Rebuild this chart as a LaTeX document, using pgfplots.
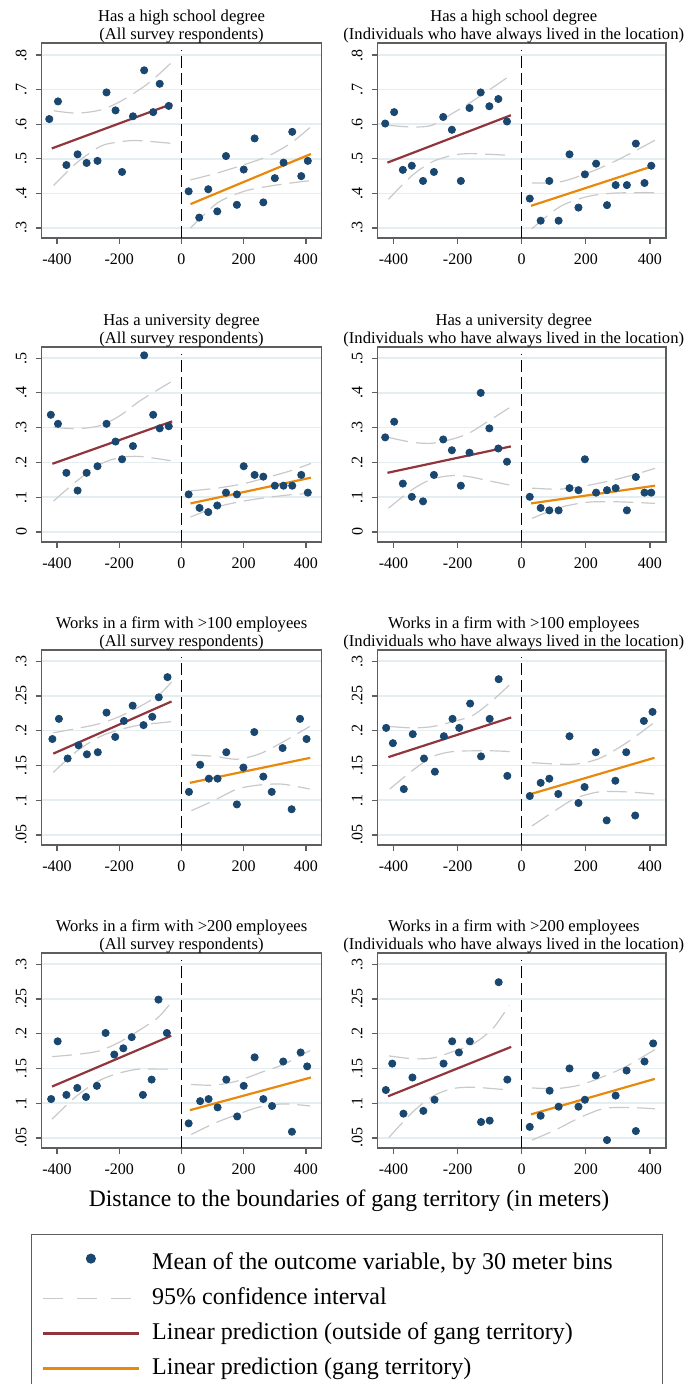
\documentclass[border=0pt]{standalone}
\usepackage{fontspec}
\setmainfont{Liberation Serif}
\usepackage{pgfplots}
\pgfplotsset{compat=1.18}
\definecolor{navyc}{HTML}{1A476F}
\definecolor{maroonc}{HTML}{90353B}
\definecolor{orangec}{HTML}{E8890C}
\definecolor{gridc}{HTML}{E4EEF1}
\definecolor{cic}{HTML}{C9C9C9}
\definecolor{framec}{HTML}{5E5E5E}
\pgfplotsset{
  every axis title shift=0pt,
  panel/.style={
    scale only axis, height=97.5pt, anchor=north west,
    xmin=-450, xmax=450,
    xtick={-400,-200,0,200,400}, xticklabels={-400,-200,0,200,400},
    axis line style={draw=framec, line width=0.6pt},
    tick style={draw=framec, line width=0.6pt},
    tick align=outside, major tick length=3pt,
    xtick pos=lower, ytick pos=left,
    ymajorgrids, grid style={draw=gridc, line width=0.8pt},
    tick label style={font=\fontsize{8}{9}\selectfont},
    yticklabel style={rotate=90, anchor=south, inner sep=4.2pt},
    xticklabel style={inner sep=4.5pt},
    title style={font=\fontsize{8.3}{9}\selectfont, align=center, at={(0.5,1)}, anchor=south, inner sep=0pt, yshift=0pt},
  },
  lcol/.style={panel, width=140pt},
  rcol/.style={panel, width=144.25pt, title style={xshift=-4pt}},
  row1/.style={ymin=0.271, ymax=0.835, ytick={0.3,0.4,0.5,0.6,0.7,0.8}, yticklabels={.3,.4,.5,.6,.7,.8}},
  row2/.style={ymin=-0.029, ymax=0.532, ytick={0,0.1,0.2,0.3,0.4,0.5}, yticklabels={0,.1,.2,.3,.4,.5}},
  row34/.style={ymin=0.0356, ymax=0.316, ytick={0.05,0.1,0.15,0.2,0.25,0.3}, yticklabels={.05,.1,.15,.2,.25,.3}},
  pts/.style={only marks, mark=*, mark size=1.8pt, mark options={draw=navyc, fill=navyc}},
  ci/.style={draw=cic, line width=0.6pt, dash pattern=on 10pt off 4pt, smooth},
  red/.style={draw=maroonc, line width=1.1pt},
  orng/.style={draw=orangec, line width=1.1pt},
  vline/.style={draw=black, line width=0.6pt, dash pattern=on 6pt off 2.5pt},
}
\begin{document}
\begin{tikzpicture}
%% ---------- Row 1 left
\begin{axis}[lcol, row1, at={(20.75pt,-21.5pt)}, title={Has a high school degree\\(All survey respondents)}]
\addplot[ci] coordinates {(-411,0.639) (-336,0.632) (-261,0.641) (-207,0.661) (-154,0.689) (-100,0.723) (-35,0.776)};
\addplot[ci] coordinates {(-411,0.423) (-336,0.489) (-261,0.536) (-207,0.548) (-154,0.553) (-100,0.550) (-35,0.545)};
\addplot[ci] coordinates {(29,0.439) (115,0.459) (201,0.483) (276,0.507) (351,0.545) (416,0.593)};
\addplot[ci] coordinates {(29,0.300) (115,0.372) (201,0.406) (276,0.420) (351,0.430) (416,0.437)};
\addplot[red] coordinates {(-417,0.530) (-30,0.659)};
\addplot[orng] coordinates {(29,0.369) (416,0.514)};
\addplot[vline] coordinates {(0,0.271) (0,0.815)};
\addplot[pts] coordinates {(-425,0.615) (-397,0.666) (-370,0.482) (-334,0.513) (-305,0.488) (-270,0.494) (-241,0.692) (-212,0.640) (-191,0.462) (-156,0.623) (-120,0.756) (-91,0.635) (-70,0.717) (-41,0.653)
 (23,0.406) (57,0.330) (86,0.412) (115,0.348) (143,0.508) (178,0.367) (200,0.469) (235,0.559) (263,0.374) (300,0.444) (328,0.489) (356,0.578) (385,0.450) (406,0.494)};
\end{axis}
%% ---------- Row 1 right
\begin{axis}[rcol, row1, at={(188.75pt,-21.5pt)}, title={Has a high school degree\\(Individuals who have always lived in the location)}]
\addplot[ci] coordinates {(-416,0.597) (-343,0.592) (-280,0.597) (-217,0.631) (-165,0.660) (-102,0.699) (-39,0.739)};
\addplot[ci] coordinates {(-416,0.383) (-343,0.451) (-280,0.491) (-217,0.510) (-165,0.515) (-102,0.513) (-39,0.510)};
\addplot[ci] coordinates {(32,0.430) (118,0.433) (201,0.457) (275,0.486) (348,0.520) (416,0.554)};
\addplot[ci] coordinates {(32,0.298) (118,0.361) (201,0.390) (275,0.400) (348,0.402) (416,0.402)};
\addplot[red] coordinates {(-419,0.489) (-34,0.626)};
\addplot[orng] coordinates {(29,0.364) (416,0.481)};
\addplot[vline] coordinates {(0,0.271) (0,0.815)};
\addplot[pts] coordinates {(-426,0.602) (-398,0.635) (-371,0.468) (-343,0.480) (-308,0.436) (-274,0.462) (-245,0.621) (-218,0.584) (-190,0.436) (-163,0.647) (-128,0.692) (-101,0.652) (-73,0.673) (-46,0.608)
 (25,0.385) (59,0.321) (86,0.436) (115,0.321) (149,0.513) (177,0.359) (197,0.455) (232,0.486) (266,0.366) (293,0.424) (328,0.424) (356,0.544) (383,0.430) (404,0.480)};
\end{axis}
%% ---------- Row 2 left
\begin{axis}[lcol, row2, at={(20.75pt,-173.5pt)}, title={Has a university degree\\(All survey respondents)}]
\addplot[ci] coordinates {(-411,0.301) (-336,0.297) (-261,0.306) (-197,0.335) (-132,0.378) (-35,0.431)};
\addplot[ci] coordinates {(-411,0.089) (-336,0.147) (-261,0.195) (-197,0.214) (-132,0.217) (-35,0.205)};
\addplot[ci] coordinates {(29,0.118) (115,0.126) (201,0.139) (276,0.157) (351,0.176) (416,0.197)};
\addplot[ci] coordinates {(29,0.043) (115,0.072) (201,0.089) (276,0.099) (351,0.107) (416,0.111)};
\addplot[red] coordinates {(-415,0.196) (-30,0.318)};
\addplot[orng] coordinates {(29,0.082) (416,0.156)};
\addplot[vline] coordinates {(0,-0.029) (0,0.512)};
\addplot[pts] coordinates {(-420,0.337) (-397,0.311) (-370,0.170) (-334,0.119) (-305,0.170) (-270,0.189) (-241,0.311) (-212,0.260) (-191,0.209) (-156,0.247) (-120,0.508) (-91,0.337) (-70,0.298) (-41,0.304)
 (23,0.108) (58,0.069) (86,0.057) (115,0.076) (143,0.113) (178,0.108) (200,0.189) (235,0.164) (263,0.159) (300,0.133) (328,0.133) (356,0.133) (385,0.164) (406,0.113)};
\end{axis}
%% ---------- Row 2 right
\begin{axis}[rcol, row2, at={(188.75pt,-173.5pt)}, title={Has a university degree\\(Individuals who have always lived in the location)}]
\addplot[ci] coordinates {(-416,0.272) (-343,0.258) (-280,0.255) (-217,0.267) (-165,0.284) (-102,0.320) (-39,0.357)};
\addplot[ci] coordinates {(-416,0.068) (-343,0.121) (-280,0.152) (-217,0.162) (-165,0.159) (-102,0.147) (-39,0.135)};
\addplot[ci] coordinates {(32,0.126) (118,0.123) (201,0.133) (275,0.147) (348,0.164) (416,0.183)};
\addplot[ci] coordinates {(32,0.039) (118,0.070) (201,0.085) (275,0.087) (348,0.085) (416,0.082)};
\addplot[red] coordinates {(-419,0.170) (-34,0.246)};
\addplot[orng] coordinates {(29,0.082) (416,0.133)};
\addplot[vline] coordinates {(0,-0.029) (0,0.512)};
\addplot[pts] coordinates {(-426,0.272) (-398,0.317) (-371,0.139) (-343,0.101) (-308,0.088) (-274,0.164) (-245,0.266) (-218,0.235) (-190,0.133) (-163,0.228) (-128,0.400) (-101,0.298) (-73,0.240) (-46,0.202)
 (25,0.101) (59,0.069) (86,0.062) (115,0.062) (149,0.126) (177,0.120) (197,0.209) (232,0.113) (266,0.120) (293,0.126) (328,0.062) (356,0.158) (383,0.113) (404,0.113)};
\end{axis}
%% ---------- Row 3 left
\begin{axis}[lcol, row34, at={(20.75pt,-325pt)}, title={Works in a firm with >100 employees\\(All survey respondents)}]
\addplot[ci] coordinates {(-412,0.197) (-338,0.203) (-264,0.210) (-201,0.220) (-137,0.234) (-74,0.251) (-32,0.270)};
\addplot[ci] coordinates {(-412,0.140) (-338,0.170) (-264,0.191) (-201,0.201) (-137,0.208) (-74,0.211) (-32,0.213)};
\addplot[ci] coordinates {(32,0.165) (106,0.163) (179,0.159) (253,0.167) (327,0.184) (412,0.206)};
\addplot[ci] coordinates {(32,0.085) (106,0.100) (179,0.116) (253,0.122) (327,0.123) (412,0.116)};
\addplot[red] coordinates {(-412,0.167) (-32,0.242)};
\addplot[orng] coordinates {(27,0.125) (414,0.161)};
\addplot[vline] coordinates {(0,0.0356) (0,0.306)};
\addplot[pts] coordinates {(-415,0.188) (-394,0.217) (-366,0.160) (-331,0.179) (-304,0.166) (-269,0.169) (-241,0.226) (-213,0.191) (-185,0.214) (-157,0.236) (-122,0.208) (-94,0.220) (-73,0.248) (-45,0.277)
 (24,0.112) (60,0.151) (88,0.131) (116,0.131) (144,0.169) (178,0.094) (199,0.147) (234,0.198) (263,0.134) (290,0.112) (325,0.175) (354,0.087) (381,0.217) (402,0.188)};
\end{axis}
%% ---------- Row 3 right
\begin{axis}[rcol, row34, at={(188.75pt,-325pt)}, title={Works in a firm with >100 employees\\(Individuals who have always lived in the location)}]
\addplot[ci] coordinates {(-412,0.206) (-340,0.204) (-277,0.206) (-215,0.213) (-153,0.222) (-90,0.244) (-38,0.266)};
\addplot[ci] coordinates {(-412,0.116) (-340,0.143) (-277,0.163) (-215,0.170) (-153,0.171) (-90,0.171) (-38,0.170)};
\addplot[ci] coordinates {(32,0.154) (107,0.152) (169,0.152) (242,0.160) (325,0.182) (414,0.212)};
\addplot[ci] coordinates {(32,0.063) (107,0.086) (169,0.103) (242,0.112) (325,0.112) (414,0.109)};
\addplot[red] coordinates {(-416,0.162) (-33,0.219)};
\addplot[orng] coordinates {(29,0.109) (414,0.161)};
\addplot[vline] coordinates {(0,0.0356) (0,0.306)};
\addplot[pts] coordinates {(-423,0.204) (-402,0.182) (-368,0.116) (-340,0.195) (-305,0.160) (-271,0.141) (-243,0.192) (-216,0.217) (-195,0.204) (-161,0.239) (-127,0.163) (-100,0.217) (-72,0.274) (-45,0.135)
 (25,0.106) (59,0.125) (86,0.131) (114,0.109) (149,0.192) (177,0.096) (196,0.119) (231,0.169) (265,0.071) (292,0.128) (326,0.169) (354,0.078) (381,0.214) (408,0.227)};
\end{axis}
%% ---------- Row 4 left
\begin{axis}[lcol, row34, at={(20.75pt,-476.5pt)}, title={Works in a firm with >200 employees\\(All survey respondents)}]
\addplot[ci] coordinates {(-416,0.167) (-341,0.170) (-267,0.175) (-203,0.187) (-139,0.204) (-76,0.223) (-33,0.245)};
\addplot[ci] coordinates {(-416,0.077) (-341,0.109) (-267,0.132) (-203,0.143) (-139,0.149) (-76,0.149) (-33,0.149)};
\addplot[ci] coordinates {(31,0.127) (105,0.126) (180,0.132) (254,0.144) (329,0.156) (414,0.176)};
\addplot[ci] coordinates {(31,0.055) (105,0.071) (180,0.084) (254,0.095) (329,0.099) (414,0.096)};
\addplot[red] coordinates {(-416,0.124) (-33,0.197)};
\addplot[orng] coordinates {(27,0.090) (416,0.137)};
\addplot[vline] coordinates {(0,0.0356) (0,0.306)};
\addplot[pts] coordinates {(-419,0.106) (-398,0.189) (-370,0.112) (-335,0.122) (-307,0.109) (-272,0.125) (-244,0.201) (-216,0.170) (-187,0.179) (-160,0.195) (-124,0.112) (-96,0.134) (-74,0.249) (-47,0.201)
 (23,0.071) (60,0.103) (87,0.106) (116,0.094) (144,0.134) (179,0.081) (200,0.125) (235,0.166) (263,0.106) (291,0.096) (327,0.160) (355,0.059) (383,0.173) (404,0.153)};
\end{axis}
%% ---------- Row 4 right
\begin{axis}[rcol, row34, at={(188.75pt,-476.5pt)}, title={Works in a firm with >200 employees\\(Individuals who have always lived in the location)}]
\addplot[ci] coordinates {(-414,0.168) (-341,0.164) (-278,0.165) (-216,0.174) (-153,0.185) (-91,0.207) (-39,0.241)};
\addplot[ci] coordinates {(-414,0.051) (-341,0.087) (-278,0.110) (-216,0.121) (-153,0.123) (-91,0.121) (-39,0.119)};
\addplot[ci] coordinates {(32,0.122) (107,0.121) (180,0.126) (253,0.138) (326,0.153) (415,0.177)};
\addplot[ci] coordinates {(32,0.047) (107,0.062) (180,0.079) (253,0.092) (326,0.094) (415,0.092)};
\addplot[red] coordinates {(-417,0.110) (-33,0.181)};
\addplot[orng] coordinates {(29,0.084) (415,0.135)};
\addplot[vline] coordinates {(0,0.0356) (0,0.306)};
\addplot[pts] coordinates {(-424,0.119) (-404,0.157) (-369,0.085) (-341,0.137) (-307,0.089) (-272,0.105) (-244,0.157) (-217,0.189) (-196,0.173) (-162,0.189) (-127,0.073) (-100,0.075) (-72,0.274) (-45,0.134)
 (25,0.066) (59,0.082) (87,0.118) (115,0.095) (149,0.150) (177,0.095) (197,0.105) (231,0.140) (266,0.047) (293,0.111) (327,0.147) (356,0.060) (383,0.160) (410,0.186)};
\end{axis}
%% ---------- common x label
\node[font=\fontsize{11.8}{13}\selectfont] at (174.5pt,-600.5pt) {Distance to the boundaries of gang territory (in meters)};
%% ---------- legend
\begin{axis}[hide axis, scale only axis, width=315.5pt, height=20pt, at={(15.5pt,-617pt)}, anchor=north west,
  xmin=0, xmax=1, ymin=0, ymax=1,
  legend image code/.code={\draw[mark repeat=2, mark phase=2, #1] plot coordinates {(0pt,0pt) (24pt,0pt) (48pt,0pt)};},
  legend style={at={(0,1)}, anchor=north west, draw=framec, line width=0.6pt,
    font=\fontsize{12}{14}\selectfont, cells={anchor=west},
    inner xsep=5pt, inner ysep=8.5pt, row sep=5.5pt, column sep=6pt,
    nodes={inner sep=0pt, text height=9pt, text depth=3pt}},
  legend cell align=left]
\addlegendimage{only marks, mark=*, mark size=2.2pt, mark options={draw=navyc, fill=navyc, yshift=2.5pt}}
\addlegendentry{\makebox[250pt][l]{Mean of the outcome variable, by 30 meter bins}}
\addlegendimage{draw=cic, line width=0.8pt, dash pattern=on 10pt off 7pt}
\addlegendentry{95\% confidence interval}
\addlegendimage{draw=maroonc, line width=1.3pt}
\addlegendentry{Linear prediction (outside of gang territory)}
\addlegendimage{draw=orangec, line width=1.3pt}
\addlegendentry{Linear prediction (gang territory)}
\end{axis}
\pgfresetboundingbox
\useasboundingbox (0,0) rectangle (343pt,-692pt);
\end{tikzpicture}
\end{document}
